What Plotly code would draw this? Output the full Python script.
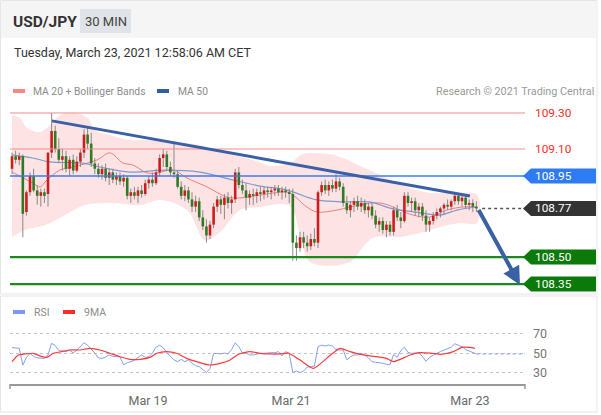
import plotly.graph_objects as go

# 30 min bars, USD/JPY, left to right
opens = [108.99, 109.06, 109.04, 109.06, 108.75, 108.86, 108.95, 108.87, 108.84, 108.86,
         108.85, 109.08, 109.20, 109.10, 109.04, 109.06, 108.99, 109.04, 108.98, 109.03,
         109.08, 109.18, 109.13, 109.02, 108.99, 108.96, 108.99, 108.94, 108.97, 108.93,
         108.95, 108.92, 108.94, 108.84, 108.86, 108.84, 108.87, 108.85, 108.91, 108.93,
         108.91, 108.97, 109.05, 109.07, 109.00, 108.97, 108.96, 108.89, 108.84, 108.87,
         108.82, 108.78, 108.81, 108.72, 108.67, 108.62, 108.68, 108.78, 108.82, 108.79,
         108.83, 108.80, 108.82, 108.97, 108.90, 108.87, 108.83, 108.85, 108.84, 108.86,
         108.85, 108.87, 108.86, 108.87, 108.88, 108.86, 108.87, 108.86, 108.85, 108.58,
         108.55, 108.61, 108.58, 108.56, 108.60, 108.58, 108.86, 108.90, 108.87, 108.90,
         108.88, 108.92, 108.89, 108.80, 108.76, 108.79, 108.81, 108.78, 108.80, 108.76,
         108.78, 108.73, 108.68, 108.70, 108.65, 108.68, 108.64, 108.76, 108.72, 108.70,
         108.84, 108.80, 108.81, 108.76, 108.78, 108.73, 108.68, 108.70, 108.73, 108.75,
         108.77, 108.79, 108.78, 108.81, 108.84, 108.81, 108.83, 108.79, 108.80, 108.78]
highs = [109.08, 109.09, 109.08, 109.07, 108.87, 108.97, 108.99, 108.90, 108.88, 108.88,
         109.08, 109.30, 109.23, 109.16, 109.10, 109.09, 109.06, 109.07, 109.06, 109.10,
         109.21, 109.22, 109.19, 109.05, 109.02, 109.01, 109.02, 108.99, 108.99, 108.97,
         108.97, 108.96, 108.95, 108.88, 108.89, 108.89, 108.90, 108.93, 108.95, 108.97,
         108.99, 109.07, 109.10, 109.09, 109.03, 109.13, 108.98, 108.92, 108.90, 108.89,
         108.86, 108.84, 108.83, 108.76, 108.71, 108.70, 108.80, 108.84, 108.84, 108.85,
         108.86, 108.84, 108.99, 109.00, 108.93, 108.91, 108.87, 108.88, 108.88, 108.89,
         108.89, 108.89, 108.89, 108.90, 108.90, 108.89, 108.89, 108.88, 108.88, 108.62,
         108.64, 108.64, 108.62, 108.63, 108.66, 108.87, 108.92, 108.93, 108.92, 108.93,
         108.96, 108.94, 108.91, 108.84, 108.81, 108.83, 108.84, 108.83, 108.82, 108.80,
         108.80, 108.76, 108.72, 108.72, 108.70, 108.70, 108.78, 108.79, 108.75, 108.86,
         108.86, 108.83, 108.83, 108.80, 108.80, 108.76, 108.72, 108.75, 108.77, 108.78,
         108.80, 108.82, 108.82, 108.86, 108.85, 108.84, 108.84, 108.82, 108.82, 108.81]
lows = [108.96, 109.02, 109.01, 108.61, 108.73, 108.84, 108.86, 108.79, 108.78, 108.80,
        108.78, 109.05, 109.08, 109.02, 108.98, 108.97, 108.95, 108.96, 108.97, 109.00,
        109.05, 109.10, 109.00, 108.96, 108.94, 108.93, 108.92, 108.90, 108.91, 108.90,
        108.90, 108.89, 108.82, 108.80, 108.82, 108.80, 108.83, 108.84, 108.88, 108.89,
        108.90, 108.95, 109.00, 108.98, 108.95, 108.94, 108.88, 108.82, 108.81, 108.80,
        108.75, 108.75, 108.70, 108.65, 108.58, 108.60, 108.66, 108.75, 108.74, 108.71,
        108.77, 108.74, 108.80, 108.88, 108.85, 108.76, 108.79, 108.79, 108.80, 108.81,
        108.82, 108.83, 108.82, 108.84, 108.84, 108.82, 108.83, 108.80, 108.48, 108.48,
        108.53, 108.55, 108.53, 108.54, 108.56, 108.55, 108.84, 108.85, 108.84, 108.86,
        108.86, 108.87, 108.78, 108.74, 108.72, 108.75, 108.76, 108.75, 108.74, 108.72,
        108.71, 108.66, 108.64, 108.63, 108.61, 108.62, 108.62, 108.70, 108.66, 108.69,
        108.78, 108.75, 108.73, 108.72, 108.70, 108.64, 108.64, 108.68, 108.71, 108.72,
        108.74, 108.76, 108.76, 108.79, 108.79, 108.78, 108.77, 108.76, 108.75, 108.75]
closes = [109.06, 109.04, 109.06, 108.74, 108.86, 108.95, 108.87, 108.84, 108.86, 108.84,
          109.08, 109.20, 109.10, 109.04, 109.06, 108.99, 109.04, 108.98, 109.03, 109.08,
          109.18, 109.13, 109.02, 108.99, 108.96, 108.99, 108.94, 108.97, 108.93, 108.95,
          108.92, 108.94, 108.84, 108.86, 108.84, 108.87, 108.85, 108.91, 108.93, 108.91,
          108.97, 109.05, 109.07, 109.00, 108.97, 108.96, 108.89, 108.84, 108.87, 108.82,
          108.78, 108.81, 108.72, 108.67, 108.62, 108.68, 108.78, 108.82, 108.79, 108.83,
          108.80, 108.82, 108.97, 108.90, 108.87, 108.83, 108.85, 108.84, 108.86, 108.85,
          108.87, 108.86, 108.87, 108.88, 108.86, 108.87, 108.86, 108.85, 108.58, 108.55,
          108.61, 108.58, 108.56, 108.60, 108.58, 108.86, 108.90, 108.87, 108.90, 108.88,
          108.92, 108.89, 108.80, 108.76, 108.79, 108.81, 108.78, 108.80, 108.76, 108.78,
          108.73, 108.68, 108.70, 108.65, 108.68, 108.64, 108.76, 108.72, 108.70, 108.84,
          108.80, 108.81, 108.76, 108.78, 108.73, 108.68, 108.70, 108.73, 108.75, 108.77,
          108.79, 108.78, 108.81, 108.84, 108.81, 108.83, 108.79, 108.80, 108.78, 108.77]

band_up_x = [0, 2.2, 4.2, 7.8, 10.6, 13.3, 17.5, 21.1, 23, 27.2, 32.8, 40.3, 45.8, 52.2,
             55.8, 61.4, 66.9, 71.7, 77.2, 80.8, 87.5, 91.1, 97.5, 102.2, 109.7, 116.1,
             122.5, 129.2]
band_up = [109.289, 109.272, 109.217, 109.194, 109.233, 109.289, 109.30, 109.272, 109.206,
           109.178, 109.15, 109.15, 109.139, 109.122, 109.094, 109.067, 109.039, 109.006,
           109.022, 109.072, 109.072, 109.056, 109.0, 108.956, 108.889, 108.856, 108.856,
           108.844]
band_lo_x = [0, 3.6, 9.2, 13.3, 20.3, 27.2, 35.6, 41.1, 48.6, 53.6, 57.8, 63.3, 68.9,
             77.2, 80, 82.8, 93.9, 97.5, 100.8, 107.8, 113.3, 118.9, 124.4, 129.2]
band_lo = [108.611, 108.65, 108.678, 108.717, 108.789, 108.80, 108.789, 108.817, 108.761,
           108.594, 108.639, 108.761, 108.778, 108.783, 108.622, 108.472, 108.472, 108.556,
           108.611, 108.611, 108.633, 108.667, 108.689, 108.689]
ma20_x = [0, 5.8, 7.8, 9.7, 13.3, 16.9, 23.6, 27.2, 30.8, 33.6, 37.5, 40.3, 44.7, 48.6,
          54.2, 59.7, 63.3, 68.9, 75.3, 77.2, 81.9, 84.7, 90.3, 93.9, 102.2, 111.4, 116.1,
          120.8, 125.3, 129.2]
ma20 = [108.972, 108.911, 108.889, 108.928, 108.983, 109.0, 109.039, 109.078, 109.022,
        109.011, 108.967, 108.967, 108.983, 108.939, 108.889, 108.833, 108.828, 108.844,
        108.861, 108.856, 108.778, 108.75, 108.761, 108.778, 108.80, 108.733, 108.722,
        108.761, 108.778, 108.778]
ma50_x = [0, 5.8, 10.6, 19.7, 24.4, 32.8, 42.5, 52.2, 61.4, 68.9, 76.4, 84.7, 93.1, 99.4,
          105, 114.2, 118.9, 123.6, 129.2]
ma50 = [109.067, 109.05, 109.028, 109.022, 109.0, 108.972, 108.983, 108.972, 108.928,
        108.894, 108.872, 108.817, 108.806, 108.806, 108.772, 108.744, 108.733, 108.761,
        108.778]

# RSI per bar and its 9 period average
rsi = [56, 55.5, 55.3, 38, 46, 50, 47, 45.5, 45, 45,
       48.5, 60.5, 58, 53, 52.5, 52, 53.5, 50.5, 53.5, 57.5,
       61, 58.5, 55, 50.5, 45.5, 45, 46.5, 48.5, 47, 46.5,
       46.5, 38.5, 40.5, 41.5, 43, 46, 48.5, 46, 46.5, 50.5,
       56.5, 58.5, 56, 51, 47, 43.5, 41.5, 44, 41.5, 43.5,
       40, 37.5, 36.5, 33, 30.5, 34.5, 50, 50, 49.5, 50.5,
       49.5, 54, 61, 57, 50.5, 50.5, 48.5, 48.5, 49.5, 50.2,
       50.2, 50.8, 50.8, 50.8, 51.9, 47.5, 51.9, 50.2, 30.5, 32,
       30.5, 32, 36, 36.5, 37, 57, 58.5, 57.7, 58.7, 57.5,
       54, 53.6, 53.6, 43.5, 46.5, 48.5, 48.5, 50, 48.5, 45.5,
       41.5, 41, 40.6, 40, 39, 38.3, 49, 46, 53, 56.5,
       51, 50.2, 50.5, 50.5, 47, 42, 46, 48.5, 50.2, 51.9,
       53.6, 55, 56.5, 60, 58.7, 57, 54, 52.5, 50.5, 49.5]
rsi_ma_x = [0, 1.75, 3.6, 5.9, 7.8, 9.6, 11.5, 13.8, 16.1, 18.9, 21.7, 24.4, 27.2, 30,
            32.8, 35.6, 38.3, 40.2, 43, 45.7, 48.5, 52.2, 55, 57.8, 60.6, 62.9, 66.1, 68.9,
            71.7, 74.4, 76.8, 80, 83.7, 87.4, 91.1, 93.9, 97.6, 101.3, 104, 105.9, 107.8,
            110.6, 113.3, 116.6, 119.4, 122.6, 124.9, 127.2, 128.6]
rsi_ma = [41.6, 48.5, 49.5, 50.2, 47.4, 46, 50.2, 51.9, 53.6, 53.6, 55.3, 53.6, 50.2, 46.7,
          44, 44, 46, 50.2, 51.9, 50.2, 45, 40.6, 38.2, 39.9, 43.3, 49.2, 51.9, 50.2, 49.5,
          49.5, 50.2, 43.3, 34.8, 45, 55.3, 51.9, 48.5, 46.7, 45, 41.6, 44, 48.5, 50.8,
          50.2, 49.2, 51.9, 56.3, 56.3, 55.3]

tick_pos = [37.8, 77.5, 127.2]
tick_text = ["Mar 19", "Mar 21", "Mar 23"]

resistances = [109.30, 109.10]
pivot = 108.95
last_price = 108.77
supports = [108.50, 108.35]

trend_x = [11.1, 127.2]
trend_y = [109.256, 108.839]
target_x = [129.4, 141.1]
target_y = [108.77, 108.345]

# page geometry
W, H = 601, 415
L, R, T, B = 10, 76, 100, 31
PW, PH = W - L - R, H - T - B
X_RANGE = [-0.56, 142.5]
Y_RANGE = [108.306, 109.372]
RSI_RANGE = [18.7, 82.3]
FONT = "Roboto, Arial, sans-serif"


def xp(px):
    return (px - L) / PW


def yp(py):
    return (H - B - py) / PH


main_dom = [yp(292), 1]
rsi_dom = [0, yp(322)]
units_per_px = (Y_RANGE[1] - Y_RANGE[0]) / (PH * (main_dom[1] - main_dom[0]))

n = len(closes)
idx = list(range(n))
UP, DOWN, WICK = "#cc1d1d", "#2f7a22", "#8a8a8a"

fig = go.Figure()

fig.add_trace(go.Scatter(
    x=band_up_x + band_lo_x[::-1], y=band_up + band_lo[::-1],
    fill="toself", fillcolor="#fde3e3", mode="lines", line=dict(width=0, shape="spline"),
    hoverinfo="skip"))

fig.add_trace(go.Scatter(x=ma20_x, y=ma20, mode="lines",
                         line=dict(color="#f27d7d", width=1, shape="spline")))
fig.add_trace(go.Scatter(x=ma50_x, y=ma50, mode="lines",
                         line=dict(color="#8099cc", width=1.2, shape="spline")))

# candles: grey wick, then a thick segment for the body
wick_x, wick_y = [], []
up_x, up_y, dn_x, dn_y = [], [], [], []
for i in idx:
    wick_x += [i, i, None]
    wick_y += [lows[i], highs[i], None]
    o, c = opens[i], closes[i]
    if c >= o:
        up_x += [i, i, None]
        up_y += [o, max(c, o + 0.004), None]
    else:
        dn_x += [i, i, None]
        dn_y += [o, c, None]
fig.add_trace(go.Scatter(x=wick_x, y=wick_y, mode="lines",
                         line=dict(color=WICK, width=1), hoverinfo="skip"))
fig.add_trace(go.Scatter(x=up_x, y=up_y, mode="lines", line=dict(color=UP, width=2.6)))
fig.add_trace(go.Scatter(x=dn_x, y=dn_y, mode="lines", line=dict(color=DOWN, width=2.6)))

fig.add_trace(go.Scatter(x=idx, y=rsi, yaxis="y2", mode="lines",
                         line=dict(color="#84a0f0", width=1)))
fig.add_trace(go.Scatter(x=rsi_ma_x, y=rsi_ma, yaxis="y2", mode="lines",
                         line=dict(color="#ff3a3a", width=1.2, shape="spline", smoothing=0.6)))

shapes = []
# card frames and header band
shapes.append(dict(type="rect", xref="paper", yref="paper", x0=xp(0.5), x1=xp(597),
                   y0=yp(294), y1=yp(0.5), line=dict(color="#e6e6e6", width=1),
                   fillcolor="white", layer="below"))
shapes.append(dict(type="rect", xref="paper", yref="paper", x0=xp(0.5), x1=xp(597),
                   y0=yp(412), y1=yp(296), line=dict(color="#e6e6e6", width=1),
                   fillcolor="white", layer="below"))
shapes.append(dict(type="rect", xref="paper", yref="paper", x0=xp(1), x1=xp(596.5),
                   y0=yp(38), y1=yp(1), line_width=0, fillcolor="#f5f5f5", layer="below"))
shapes.append(dict(type="rect", xref="paper", yref="paper", x0=xp(80), x1=xp(131),
                   y0=yp(33), y1=yp(9), line_width=0, fillcolor="#e0e3e8", layer="below"))
# legend swatches
for x0, y, col in [(13, 91, "#f78787"), (157, 91, "#2f5ea8"),
                   (13, 312, "#7b98f0"), (63, 312, "#ff2a2a")]:
    shapes.append(dict(type="rect", xref="paper", yref="paper", x0=xp(x0), x1=xp(x0 + 12),
                       y0=yp(y + 2), y1=yp(y - 2), line_width=0, fillcolor=col))

# price levels
for v in resistances:
    shapes.append(dict(type="line", xref="x domain", yref="y", x0=0, x1=1, y0=v, y1=v,
                       line=dict(color="#f58a8a", width=1)))
shapes.append(dict(type="line", xref="x domain", yref="y", x0=0, x1=1, y0=pivot, y1=pivot,
                   line=dict(color="#3b7cf0", width=1.5)))
for v in supports:
    shapes.append(dict(type="line", xref="x domain", yref="y", x0=0, x1=1, y0=v, y1=v,
                       line=dict(color="#1e8a1e", width=2.2)))
shapes.append(dict(type="line", xref="x", yref="y", x0=n + 0.6, x1=X_RANGE[1],
                   y0=last_price, y1=last_price, line=dict(color="#555", width=1.5, dash="dot")))
shapes.append(dict(type="line", xref="x", yref="y", x0=trend_x[0], x1=trend_x[1],
                   y0=trend_y[0], y1=trend_y[1], line=dict(color="#3a60a6", width=3)))

# boxed price tags on the right
hh = 7.5 * units_per_px
tip, left, right = xp(523), xp(531), xp(596)
annotations = []
for v, col in [(pivot, "#2f7bf5"), (last_price, "#333333"),
               (supports[0], "#0b7a0b"), (supports[1], "#0b7a0b")]:
    shapes.append(dict(type="path", xref="paper", yref="y", line_width=0, fillcolor=col,
                       path=f"M {tip},{v} L {left},{v + hh} L {right},{v + hh} "
                            f"L {right},{v - hh} L {left},{v - hh} Z"))
    annotations.append(dict(xref="paper", yref="y", x=xp(533), y=v, xanchor="left",
                            yanchor="middle", text=f"{v:.2f}", showarrow=False,
                            font=dict(family=FONT, size=11.8, color="white")))
for v in resistances:
    annotations.append(dict(xref="paper", yref="y", x=xp(533), y=v, xanchor="left",
                            yanchor="middle", text=f"{v:.2f}", showarrow=False,
                            font=dict(family=FONT, size=11.8, color="#f0302a")))

# rsi last value carried to the edge, and axis end ticks
shapes.append(dict(type="line", xref="x", yref="y2", x0=n - 1, x1=X_RANGE[1],
                   y0=rsi[-1], y1=rsi[-1], line=dict(color="#84a0f0", width=1, dash="dot")))
for xx in (0, 1):
    shapes.append(dict(type="line", xref="paper", yref="paper", x0=xx, x1=xx,
                       y0=0, y1=yp(389), line=dict(color="#999", width=1.5)))

# target arrow
annotations.append(dict(xref="x", yref="y", axref="x", ayref="y", x=target_x[1],
                        y=target_y[1], ax=target_x[0], ay=target_y[0], text="",
                        showarrow=True, arrowhead=2, arrowsize=0.9, arrowwidth=4,
                        arrowcolor="#3a60a6", standoff=0, startstandoff=0))

# header and legend texts
def label(text, px, py, size, color, anchor="left", bold=False):
    annotations.append(dict(xref="paper", yref="paper", x=xp(px), y=yp(py), xanchor=anchor,
                            yanchor="middle", showarrow=False,
                            text=f"<b>{text}</b>" if bold else text,
                            font=dict(family=FONT, size=size, color=color)))


label("USD/JPY", 11, 22, 15.5, "#333", bold=True)
label("30 MIN", 105.5, 21.5, 13, "#444", anchor="center")
label("Tuesday, March 23, 2021 12:58:06 AM CET", 12, 52, 12.5, "#333")
label("MA 20 + Bollinger Bands", 31, 91.5, 10.3, "#8c8c8c")
label("MA 50", 176, 91.5, 10.3, "#8c8c8c")
label("Research © 2021 Trading Central", 596, 91.5, 10.8, "#9a9a9a", anchor="right")
label("RSI", 32, 312, 10.5, "#8c8c8c")
label("9MA", 82, 312, 10.5, "#8c8c8c")

fig.update_layout(
    width=W, height=H, autosize=False, showlegend=False,
    margin=dict(l=L, r=R, t=T, b=B, pad=0, autoexpand=False),
    paper_bgcolor="white", plot_bgcolor="rgba(0,0,0,0)",
    shapes=shapes, annotations=annotations,
    xaxis=dict(domain=[0, 1], range=X_RANGE, anchor="y2", showgrid=False, zeroline=False,
               automargin=False, tickmode="array", tickvals=tick_pos, ticktext=tick_text,
               ticks="", showline=True, linecolor="#999", linewidth=1.5,
               ticklabelstandoff=4, tickfont=dict(family=FONT, size=12.5, color="#6a6a6a")),
    yaxis=dict(domain=main_dom, range=Y_RANGE, visible=False, fixedrange=True,
               automargin=False),
    yaxis2=dict(domain=rsi_dom, range=RSI_RANGE, anchor="x", side="right", automargin=False,
                tickmode="array", tickvals=[30, 50, 70], ticks="", showline=False,
                showgrid=True, gridcolor="#c4c4c4", griddash="dot", gridwidth=1,
                zeroline=False, ticklabelstandoff=7,
                tickfont=dict(family=FONT, size=12.5, color="#777")),
)

# the page has a default 8px body margin; drop it so the figure sits at 0,0
fig.write_html("out.html", config={"displayModeBar": False},
               post_script="document.body.style.margin='0';")
